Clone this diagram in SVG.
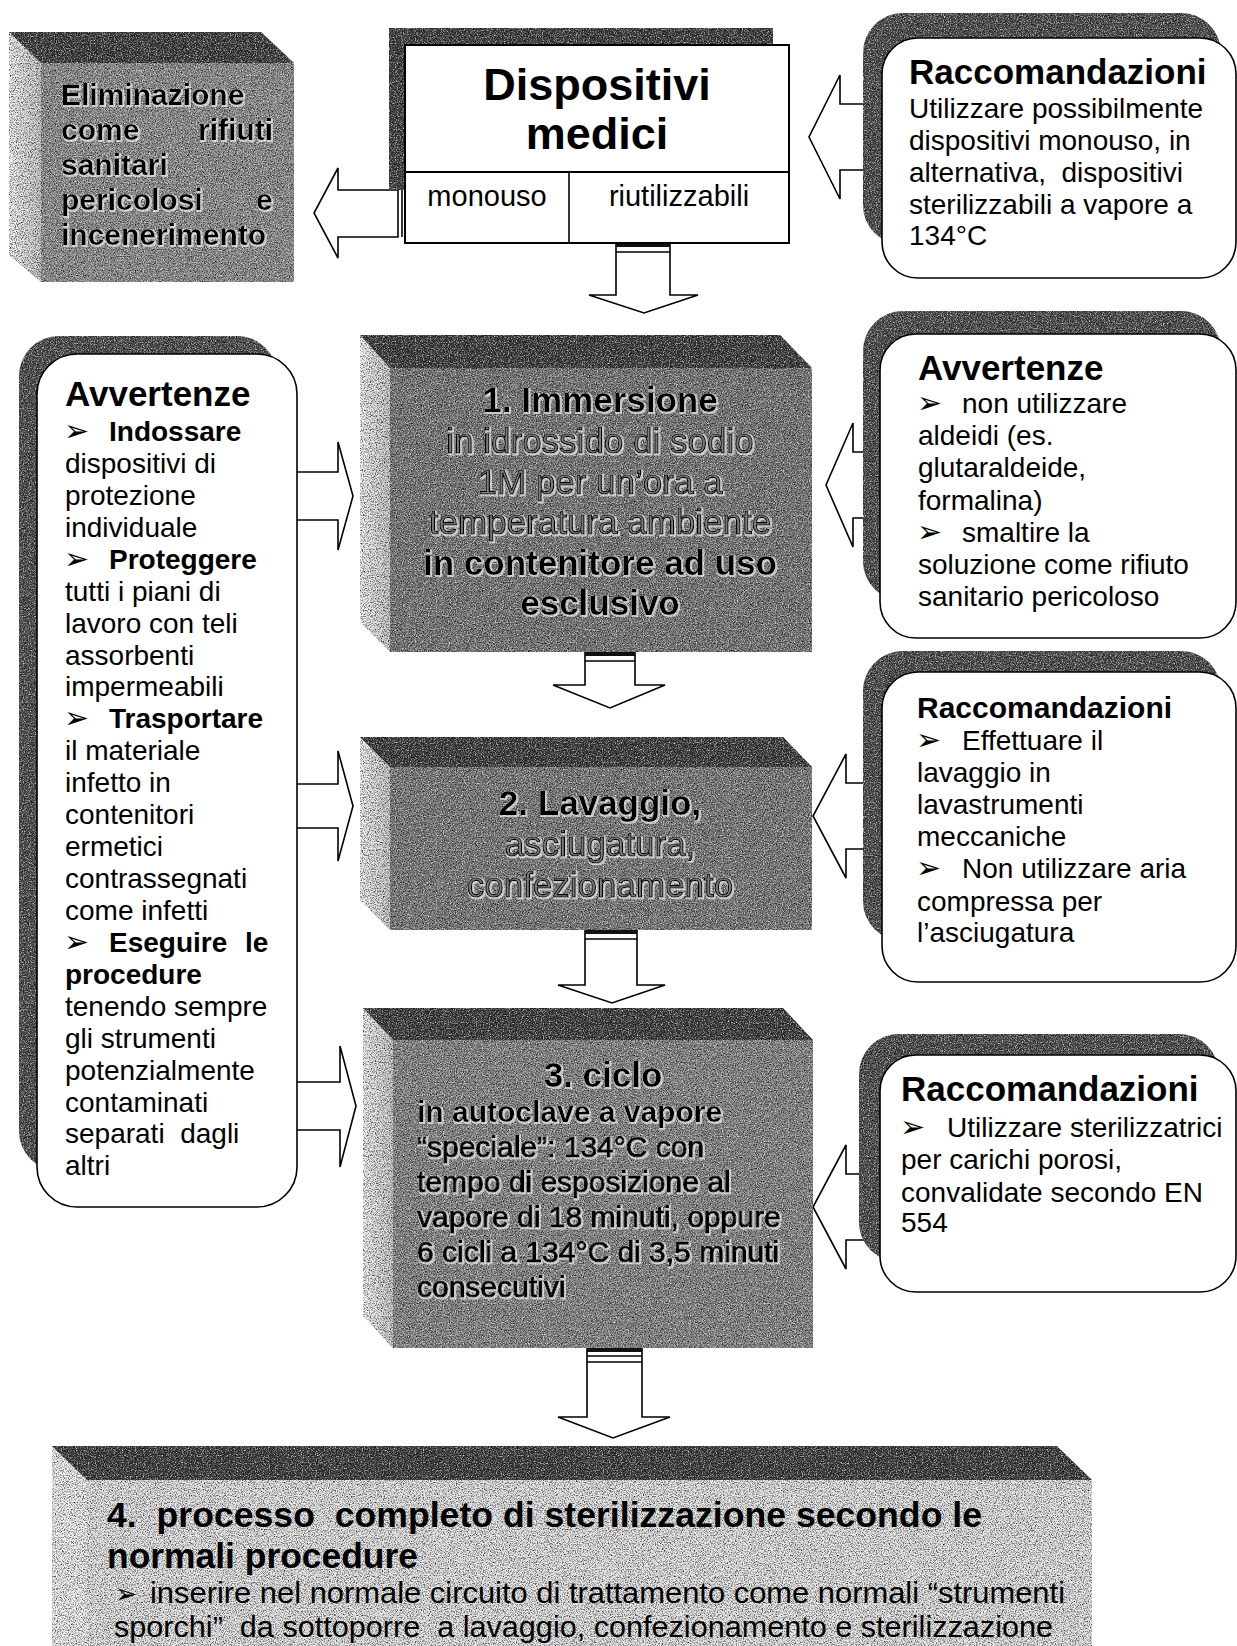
<svg xmlns="http://www.w3.org/2000/svg" width="1237" height="1646" viewBox="0 0 1237 1646">
<defs>
<style>
text{font-family:"Liberation Sans",Arial,Helvetica,sans-serif;fill:#000}
.b{font-weight:bold}
.bul{font-family:"DejaVu Sans",sans-serif;font-size:30px;font-weight:normal}
.f28{font-size:28px}
.f30{font-size:30px}
.f35{font-size:35px}
.outl{fill:#7c7c7c;stroke:#000;stroke-width:1.2}
.emb{filter:url(#halo)}
.narrow{font-family:"Liberation Sans Narrow","Arial Narrow","Liberation Sans",sans-serif}
.arrow{fill:#fff;stroke:#000;stroke-width:1.6;stroke-linejoin:miter}
.ln{stroke:#000;stroke-width:1.6;fill:none}
.card{fill:#fff;stroke:#000;stroke-width:1.6}
.shade{fill:#4a4a4a;filter:url(#grain)}
.top{fill:#3a3a3a;filter:url(#grain)}
.front{fill:#7a7a7a;filter:url(#grain)}
.side{fill:url(#sideG);filter:url(#grain)}
.stub{fill:#111}
</style>
<linearGradient id="sideG" x1="0" y1="0" x2="1" y2="0">
<stop offset="0" stop-color="#f4f4f4"/><stop offset="1" stop-color="#c6c6c6"/>
</linearGradient>
<filter id="grain" color-interpolation-filters="sRGB">
<feTurbulence type="fractalNoise" baseFrequency="0.85" numOctaves="2" seed="7" result="t"/>
<feColorMatrix in="t" type="matrix" values="0 0 0 0 0  0 0 0 0 0  0 0 0 0 0  2.0 0 0 0 -0.85" result="a"/>
<feComposite in="a" in2="SourceAlpha" operator="in" result="dark"/>
<feColorMatrix in="t" type="matrix" values="0 0 0 0 1  0 0 0 0 1  0 0 0 0 1  0 2.0 0 0 -0.95" result="w"/>
<feComposite in="w" in2="SourceAlpha" operator="in" result="light"/>
<feMerge><feMergeNode in="SourceGraphic"/><feMergeNode in="dark"/><feMergeNode in="light"/></feMerge>
</filter>
<filter id="halo" x="-5%" y="-25%" width="110%" height="150%">
<feMorphology in="SourceAlpha" operator="dilate" radius="0.8" result="d"/>
<feOffset in="d" dx="1.2" dy="1.2" result="o"/>
<feFlood flood-color="#ffffff" flood-opacity="0.6"/>
<feComposite in2="o" operator="in" result="wh"/>
<feMerge><feMergeNode in="wh"/><feMergeNode in="SourceGraphic"/></feMerge>
</filter>
</defs>
<rect x="0" y="0" width="1237" height="1646" fill="#fff"/>

<g id="connectors">
<polygon class="arrow" points="398,190 338,190 338,168 314,213 338,258 338,237 398,237"/>
<line class="ln" x1="402" y1="190" x2="402" y2="237"/>
<polygon class="arrow" points="616,243 670,243 670,295 698,295 644,313 589,295 616,295"/>
<rect class="stub" x="616" y="243" width="54" height="4"/>
<line class="ln" x1="616" y1="252" x2="670" y2="252"/>
<polygon class="arrow" points="585,652 635,652 635,685 665,685 610,708 553,685 585,685"/>
<rect class="stub" x="585" y="652" width="50" height="4"/>
<line class="ln" x1="585" y1="661" x2="635" y2="661"/>
<polygon class="arrow" points="585,930 637,930 637,985 665,985 612,1003 558,985 585,985"/>
<rect class="stub" x="585" y="930" width="52" height="4"/>
<line class="ln" x1="585" y1="939" x2="637" y2="939"/>
<polygon class="arrow" points="587,1348 642,1348 642,1417 670,1417 613,1438 558,1417 587,1417"/>
<rect class="stub" x="587" y="1348" width="55" height="4"/>
<line class="ln" x1="587" y1="1356" x2="642" y2="1356"/>
<line class="ln" x1="587" y1="1362" x2="642" y2="1362"/>
<polygon class="arrow" points="885,104 840,104 840,75 809,137 840,199 840,170 885,170"/>
<polygon class="arrow" points="885,452 853,452 853,423 826,485 853,547 853,518 885,518"/>
<polygon class="arrow" points="885,783 846,783 846,754 813,816 846,878 846,849 885,849"/>
<polygon class="arrow" points="885,1174 846,1174 846,1145 813,1207 846,1269 846,1240 885,1240"/>
<polygon class="arrow" points="290,472 338,472 338,442 353,496 338,550 338,520 290,520"/>
<polygon class="arrow" points="290,784 338,784 338,751 353,806 338,861 338,828 290,828"/>
<polygon class="arrow" points="290,1082 340,1082 340,1046 356,1106 340,1167 340,1130 290,1130"/>
</g>

<g id="n-eliminazione">
<polygon class="side" points="9,32 41,63 41,282 9,255"/>
<polygon class="top" points="9,32 261,32 294,63 41,63"/>
<rect class="front" x="41" y="63" width="253" height="219" style="fill:#8e8e8e"/>
<g class="b emb" font-size="30">
<text x="61" y="105">Eliminazione</text>
<text y="140"><tspan x="61">come</tspan><tspan x="198">rifiuti</tspan></text>
<text x="61" y="175">sanitari</text>
<text y="210"><tspan x="61">pericolosi</tspan><tspan x="256">e</tspan></text>
<text x="61" y="245">incenerimento</text>
</g>
</g>

<g id="n-dispositivi">
<rect class="shade" x="389" y="28" width="384" height="162" style="fill:#3c3c3c"/>
<rect class="card" x="405" y="45" width="384" height="198" style="stroke-width:2"/>
<line class="ln" x1="405" y1="172" x2="789" y2="172" style="stroke-width:2"/>
<line class="ln" x1="569" y1="172" x2="569" y2="243"/>
<text class="b" font-size="45" x="597" y="100" text-anchor="middle">Dispositivi</text>
<text class="b" font-size="45" x="597" y="149" text-anchor="middle">medici</text>
<text font-size="29" x="487" y="206" text-anchor="middle">monouso</text>
<text font-size="29" x="679" y="206" text-anchor="middle">riutilizzabili</text>
</g>

<g id="n-rac1">
<rect class="shade" x="863" y="13" width="358" height="232" rx="40"/>
<rect class="card" x="882" y="38" width="354" height="240" rx="36"/>
<text class="b f35" x="909" y="84">Raccomandazioni</text>
<g class="f28">
<text x="909" y="118">Utilizzare possibilmente</text>
<text x="909" y="150">dispositivi monouso, in</text>
<text x="909" y="182" xml:space="preserve">alternativa,  dispositivi</text>
<text x="909" y="214">sterilizzabili a vapore a</text>
<text x="909" y="245">134°C</text>
</g>
</g>

<g id="n-avvertenze-sx">
<rect class="shade" x="19" y="336" width="258" height="835" rx="40"/>
<rect class="card" x="37" y="354" width="260" height="853" rx="40"/>
<text class="b f35" x="65" y="406">Avvertenze</text>
<g class="f28">
<text y="441"><tspan class="bul" x="64">➢</tspan><tspan class="b" x="109">Indossare</tspan></text>
<text x="65" y="473">dispositivi di</text>
<text x="65" y="505">protezione</text>
<text x="65" y="537">individuale</text>
<text y="569"><tspan class="bul" x="64">➢</tspan><tspan class="b" x="109">Proteggere</tspan></text>
<text x="65" y="601">tutti i piani di</text>
<text x="65" y="633">lavoro con teli</text>
<text x="65" y="665">assorbenti</text>
<text x="65" y="696">impermeabili</text>
<text y="728"><tspan class="bul" x="64">➢</tspan><tspan class="b" x="109">Trasportare</tspan></text>
<text x="65" y="760">il materiale</text>
<text x="65" y="792">infetto in</text>
<text x="65" y="824">contenitori</text>
<text x="65" y="856">ermetici</text>
<text x="65" y="888">contrassegnati</text>
<text x="65" y="920">come infetti</text>
<text y="952"><tspan class="bul" x="64">➢</tspan><tspan class="b" x="109">Eseguire</tspan><tspan class="b" x="245">le</tspan></text>
<text class="b" x="65" y="984">procedure</text>
<text x="65" y="1016">tenendo sempre</text>
<text x="65" y="1048">gli strumenti</text>
<text x="65" y="1080">potenzialmente</text>
<text x="65" y="1112">contaminati</text>
<text x="65" y="1143" xml:space="preserve">separati  dagli</text>
<text x="65" y="1175">altri</text>
</g>
</g>

<g id="n-immersione">
<polygon class="side" points="360,335 390,368 390,652 360,622"/>
<polygon class="top" points="360,335 780,335 812,368 390,368"/>
<rect class="front" x="390" y="368" width="422" height="284" style="fill:#777777"/>
<g class="f35 emb" text-anchor="middle">
<text class="b" x="600" y="412">1. Immersione</text>
<text class="outl" x="600" y="453">in idrossido di sodio</text>
<text class="outl" x="600" y="494">1M per un’ora a</text>
<text class="outl" x="600" y="534">temperatura ambiente</text>
<text class="b" x="600" y="575">in contenitore ad uso</text>
<text class="b" x="600" y="615">esclusivo</text>
</g>
</g>

<g id="n-avvertenze-dx">
<rect class="shade" x="863" y="311" width="358" height="290" rx="40"/>
<rect class="card" x="880" y="334" width="356" height="304" rx="36"/>
<text class="b f35" x="918" y="380">Avvertenze</text>
<g class="f28">
<text y="413"><tspan class="bul" x="917">➢</tspan><tspan x="962">non utilizzare</tspan></text>
<text x="918" y="445">aldeidi (es.</text>
<text x="918" y="477">glutaraldeide,</text>
<text x="918" y="510">formalina)</text>
<text y="542"><tspan class="bul" x="917">➢</tspan><tspan x="962">smaltire la</tspan></text>
<text x="918" y="574">soluzione come rifiuto</text>
<text x="918" y="606">sanitario pericoloso</text>
</g>
</g>

<g id="n-lavaggio">
<polygon class="side" points="360,737 390,767 390,930 360,900"/>
<polygon class="top" points="360,737 783,737 812,767 390,767"/>
<rect class="front" x="390" y="767" width="422" height="163" style="fill:#7a7a7a"/>
<g class="f35 emb" text-anchor="middle">
<text class="b" x="600" y="815">2. Lavaggio,</text>
<text class="outl" x="600" y="856">asciugatura,</text>
<text class="outl" x="600" y="897">confezionamento</text>
</g>
</g>

<g id="n-rac2">
<rect class="shade" x="863" y="651" width="358" height="290" rx="40"/>
<rect class="card" x="882" y="672" width="354" height="310" rx="36"/>
<text class="b f30" x="917" y="718">Raccomandazioni</text>
<g class="f28">
<text y="750"><tspan class="bul" x="916">➢</tspan><tspan x="962">Effettuare il</tspan></text>
<text x="917" y="782">lavaggio in</text>
<text x="917" y="814">lavastrumenti</text>
<text x="917" y="846">meccaniche</text>
<text y="878"><tspan class="bul" x="916">➢</tspan><tspan x="962">Non utilizzare aria</tspan></text>
<text x="917" y="911">compressa per</text>
<text x="917" y="942">l’asciugatura</text>
</g>
</g>

<g id="n-ciclo">
<polygon class="side" points="363,1008 393,1040 393,1348 363,1316"/>
<polygon class="top" points="363,1008 783,1008 813,1040 393,1040"/>
<rect class="front" x="393" y="1040" width="420" height="308" style="fill:#868686"/>
<g class="emb">
<text class="b f35" x="603" y="1087" text-anchor="middle">3. ciclo</text>
<text class="b f30" x="417" y="1122">in autoclave a vapore</text>
<g class="f30 outl">
<text x="417" y="1157">“speciale”: 134°C con</text>
<text x="417" y="1192">tempo di esposizione al</text>
<text x="417" y="1227">vapore di 18 minuti, oppure</text>
<text x="417" y="1262">6 cicli a 134°C di 3,5 minuti</text>
<text x="417" y="1297">consecutivi</text>
</g>
</g>
</g>

<g id="n-rac3">
<rect class="shade" x="859" y="1034" width="360" height="228" rx="40"/>
<rect class="card" x="880" y="1055" width="356" height="237" rx="36"/>
<text class="b f35" x="901" y="1101">Raccomandazioni</text>
<g class="f28">
<text y="1137"><tspan class="bul" x="900">➢</tspan><tspan x="947">Utilizzare sterilizzatrici</tspan></text>
<text x="901" y="1169">per carichi porosi,</text>
<text x="901" y="1202">convalidate secondo EN</text>
<text x="901" y="1232">554</text>
</g>
</g>

<g id="n-processo">
<polygon class="side" points="52,1446 87,1480 87,1646 52,1646" style="fill:#f2f2f2"/>
<polygon class="top" points="52,1446 1057,1446 1092,1480 87,1480"/>
<rect class="front" x="87" y="1480" width="1005" height="166" style="fill:#e4e4e4"/>
<text class="b narrow" font-size="35" x="107" y="1527" textLength="875" lengthAdjust="spacingAndGlyphs" xml:space="preserve">4.  processo  completo di sterilizzazione secondo le</text>
<text class="b narrow" font-size="35" x="107" y="1568" textLength="311" lengthAdjust="spacingAndGlyphs">normali procedure</text>
<text class="narrow" font-size="30" y="1603"><tspan class="bul" x="115" style="font-size:27px">➢</tspan><tspan x="150" textLength="915" lengthAdjust="spacingAndGlyphs">inserire nel normale circuito di trattamento come normali “strumenti</tspan></text>
<text class="narrow" font-size="30" x="114" y="1637" textLength="939" lengthAdjust="spacingAndGlyphs" xml:space="preserve">sporchi”  da sottoporre  a lavaggio, confezionamento e sterilizzazione</text>
</g>
</svg>
